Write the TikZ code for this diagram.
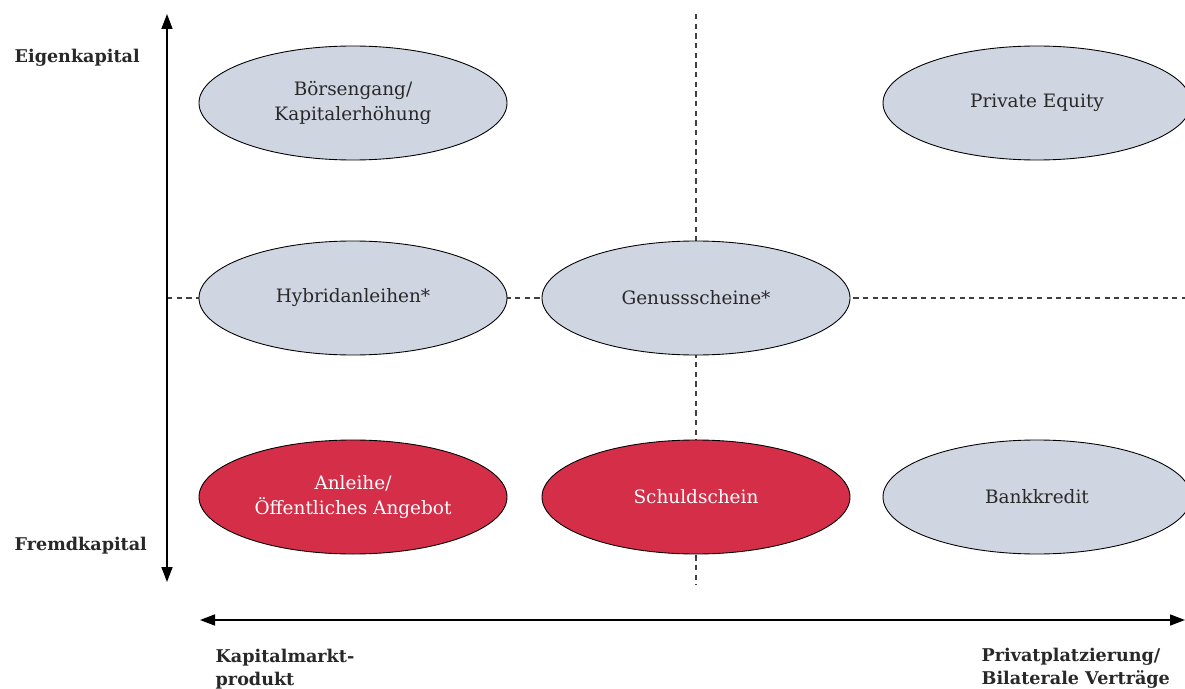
\documentclass[tikz,border=0pt]{standalone}
\usepackage{fontspec}
\setmainfont{DejaVu Serif}
\usepackage{tikz}
\usetikzlibrary{shapes.geometric,arrows.meta}

\definecolor{ovalgrey}{RGB}{208,213,226}
\definecolor{ovalred}{RGB}{212,46,72}
\definecolor{textgrey}{RGB}{40,40,40}

\begin{document}
\begin{tikzpicture}[thick,
                    oval/.style={ellipse,draw=black,line width=0.5pt,fill=ovalgrey,
                      minimum width=6.16cm,minimum height=2.28cm,inner sep=0pt,
                      align=center,text=textgrey,font=\fontsize{10.5}{14.5}\selectfont},
                    redoval/.style={oval,fill=ovalred,text=white},
                    axis label/.style={anchor=west,align=left,inner sep=0pt,text=textgrey,
                      font=\fontsize{10}{13}\selectfont\bfseries},
                    axis arrow/.style={line width=0.9pt,{Triangle[length=0.3cm,width=0.22cm]}-{Triangle[length=0.3cm,width=0.22cm]}},
                    grid line/.style={line width=0.6pt,draw=black!75,dash pattern=on 3pt off 2.5pt}]

  \useasboundingbox (0,0) rectangle (23.7,13.76);

  % dashed middle lines
  \coordinate (mid left) at (3.34,7.8);
  \coordinate (mid right) at (23.7,7.8);
  \coordinate (mid top) at (13.92,13.48);
  \coordinate (mid bottom) at (13.92,2.06);
  \draw[grid line] (mid left) -- (mid right);
  \draw[grid line] (mid top) -- (mid bottom);

  % axes
  \coordinate (eigen) at (3.34,13.48);
  \coordinate (fremd) at (3.34,2.12);
  \coordinate (markt) at (4.0,1.36);
  \coordinate (privat) at (23.7,1.36);
  \draw[axis arrow] (fremd) -- (eigen);
  \draw[axis arrow] (markt) -- (privat);

  % ovals
  \node[oval] (boerse) at (7.06,11.7) {Börsengang/\\Kapitalerhöhung};
  \node[oval] (equity) at (20.74,11.7) {Private Equity};
  \node[oval] (hybrid) at (7.06,7.8) {Hybridanleihen*};
  \node[oval] (genuss) at (13.92,7.8) {Genussscheine*};
  \node[redoval] (anleihe) at (7.06,3.82) {Anleihe/\\Öffentliches Angebot};
  \node[redoval] (schuld) at (13.92,3.82) {Schuldschein};
  \node[oval] (bank) at (20.74,3.82) {Bankkredit};

  % labels
  \node[axis label] (eigen label) at (0.28,12.6) {Eigenkapital};
  \node[axis label] (fremd label) at (0.28,2.84) {Fremdkapital};
  \node[axis label] (markt label) at (4.3,0.37) {Kapitalmarkt-\\produkt};
  \node[axis label] (privat label) at (19.62,0.39) {Privatplatzierung/\\Bilaterale Verträge};
\end{tikzpicture}
\end{document}
